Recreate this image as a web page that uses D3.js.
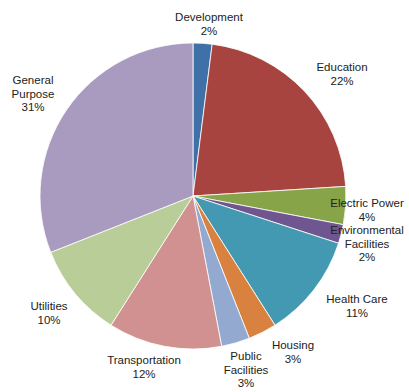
<!DOCTYPE html>
<html>
<head>
<meta charset="utf-8">
<script src="https://cdn.jsdelivr.net/npm/d3@7"></script>
<style>
  html, body { margin: 0; padding: 0; background: #fff; }
  svg { display: block; }
  text { font-family: "Liberation Sans", Arial, sans-serif; font-size: 11.5px; fill: #222; }
</style>
</head>
<body>
<svg id="chart" width="409" height="392"></svg>
<script>
// Share of spending by purpose (percent)
const categories = ["Development", "Education", "Electric Power", "Environmental Facilities",
  "Health Care", "Housing", "Public Facilities", "Transportation", "Utilities", "General Purpose"];
const values = [2, 22, 4, 2, 11, 3, 3, 12, 10, 31];
const colors = ["#3f70a8", "#a8443f", "#88a449", "#6f5690", "#4299b1", "#d9823f",
  "#94a9cf", "#d09190", "#b8cd97", "#a89bbf"];
// Label text lines per slice
const labelLines = [
  ["Development"], ["Education"], ["Electric Power"], ["Environmental", "Facilities"],
  ["Health Care"], ["Housing"], ["Public", "Facilities"], ["Transportation"], ["Utilities"],
  ["General", "Purpose"]
];
// Label anchor: centre x and first baseline y
const labelPos = [
  [209, 21], [342, 71], [367, 207], [367, 234], [357, 303], [293, 349],
  [246, 360], [144, 364], [49, 310], [33, 84]
];

const svg = d3.select("#chart");
const cx = 193, cy = 196, r = 153;

const pie = d3.pie().sort(null).value(d => d.v);
const arcs = pie(categories.map((c, i) => ({ c, v: values[i], i })));
const arc = d3.arc().innerRadius(0).outerRadius(r);

const g = svg.append("g").attr("transform", `translate(${cx},${cy})`);
g.selectAll("path").data(arcs).join("path")
  .attr("d", arc)
  .attr("fill", d => colors[d.data.i])
  .attr("stroke", "#fff")
  .attr("stroke-width", 0.8);

const lineH = 13.5;
const labels = svg.append("g");
arcs.forEach(d => {
  const i = d.data.i;
  const lines = labelLines[i].concat([d3.format(".0f")(values[i]) + "%"]);
  const t = labels.append("text")
    .attr("text-anchor", "middle")
    .attr("x", labelPos[i][0])
    .attr("y", labelPos[i][1]);
  lines.forEach((ln, k) => {
    t.append("tspan").attr("x", labelPos[i][0]).attr("dy", k === 0 ? 0 : lineH).text(ln);
  });
});
</script>
</body>
</html>
